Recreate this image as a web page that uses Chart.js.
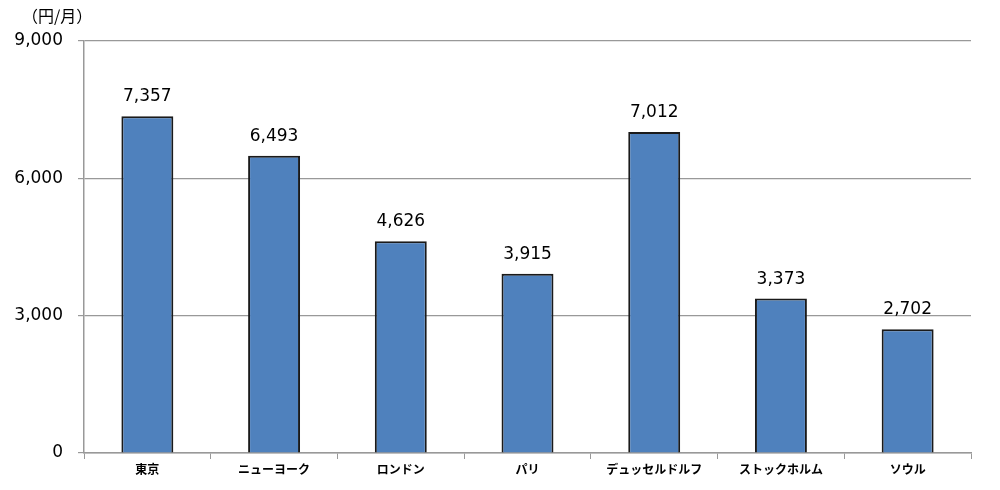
<!DOCTYPE html>
<html>
<head>
<meta charset="utf-8">
<script src="https://cdn.jsdelivr.net/npm/chart.js@4"></script>
<style>
  html, body { margin: 0; padding: 0; background: #fff; }
  #wrap { width: 1000px; height: 490px; }
</style>
</head>
<body>
<div id="wrap"><canvas id="myChart" width="1000" height="490"></canvas></div>
<script>
const cities = ["東京", "ニューヨーク", "ロンドン", "パリ", "デュッセルドルフ", "ストックホルム", "ソウル"];
const values = [7357, 6493, 4626, 3915, 7012, 3373, 2702];
const yTicks = [0, 3000, 6000, 9000];
const unitLabel = "（円/月）";

const numFont = "'DejaVu Sans', Verdana, sans-serif";
const jpFont = "'Noto Sans CJK JP', sans-serif";

// value labels above bars + unit label top-left
const labelPlugin = {
  id: "labels",
  afterDatasetsDraw(chart) {
    const ctx = chart.ctx;
    ctx.save();
    ctx.fillStyle = "#000";
    ctx.font = "17px " + numFont;
    ctx.textAlign = "center";
    ctx.textBaseline = "bottom";
    chart.getDatasetMeta(0).data.forEach(function (bar, i) {
      ctx.fillText(values[i].toLocaleString("en-US"), bar.x, bar.y - 11);
    });
    ctx.font = "16px " + jpFont;
    ctx.textAlign = "left";
    ctx.textBaseline = "middle";
    ctx.fillText(unitLabel, 22, 16);
    ctx.restore();
  },
};

var ctx = document.getElementById("myChart").getContext("2d");
var myChart = new Chart(ctx, {
  type: "bar",
  data: {
    labels: cities,
    datasets: [
      {
        data: values,
        backgroundColor: "#4F81BD",
        borderColor: "#1a1a1a",
        borderWidth: 2,
        barPercentage: 0.41,
        categoryPercentage: 1,
      },
    ],
  },
  options: {
    responsive: false,
    animation: false,
    layout: { padding: { top: 41, right: 29, left: 0, bottom: 0 } },
    plugins: {
      legend: { display: false },
      tooltip: { enabled: false },
    },
    scales: {
      x: {
        grid: {
          offset: true,
          drawOnChartArea: false,
          color: "#999",
          tickLength: 6,
        },
        border: { color: "#999", width: 1.5 },
        ticks: {
          color: "#000",
          padding: 3,
          font: { family: jpFont, size: 12, weight: "bold" },
        },
        afterFit: function (scale) {
          scale.height = 37;
        },
      },
      y: {
        min: 0,
        max: 9000,
        afterBuildTicks: function (scale) {
          scale.ticks = yTicks.map((v) => ({ value: v }));
        },
        grid: { color: "#999", lineWidth: 1.2, tickLength: 6 },
        border: { color: "#999", width: 1.5 },
        ticks: {
          color: "#000",
          padding: 15,
          font: { family: numFont, size: 17 },
          callback: (v) => v.toLocaleString("en-US"),
        },
        afterFit: function (scale) {
          scale.width = 84;
        },
      },
    },
  },
  plugins: [labelPlugin],
});
</script>
</body>
</html>
